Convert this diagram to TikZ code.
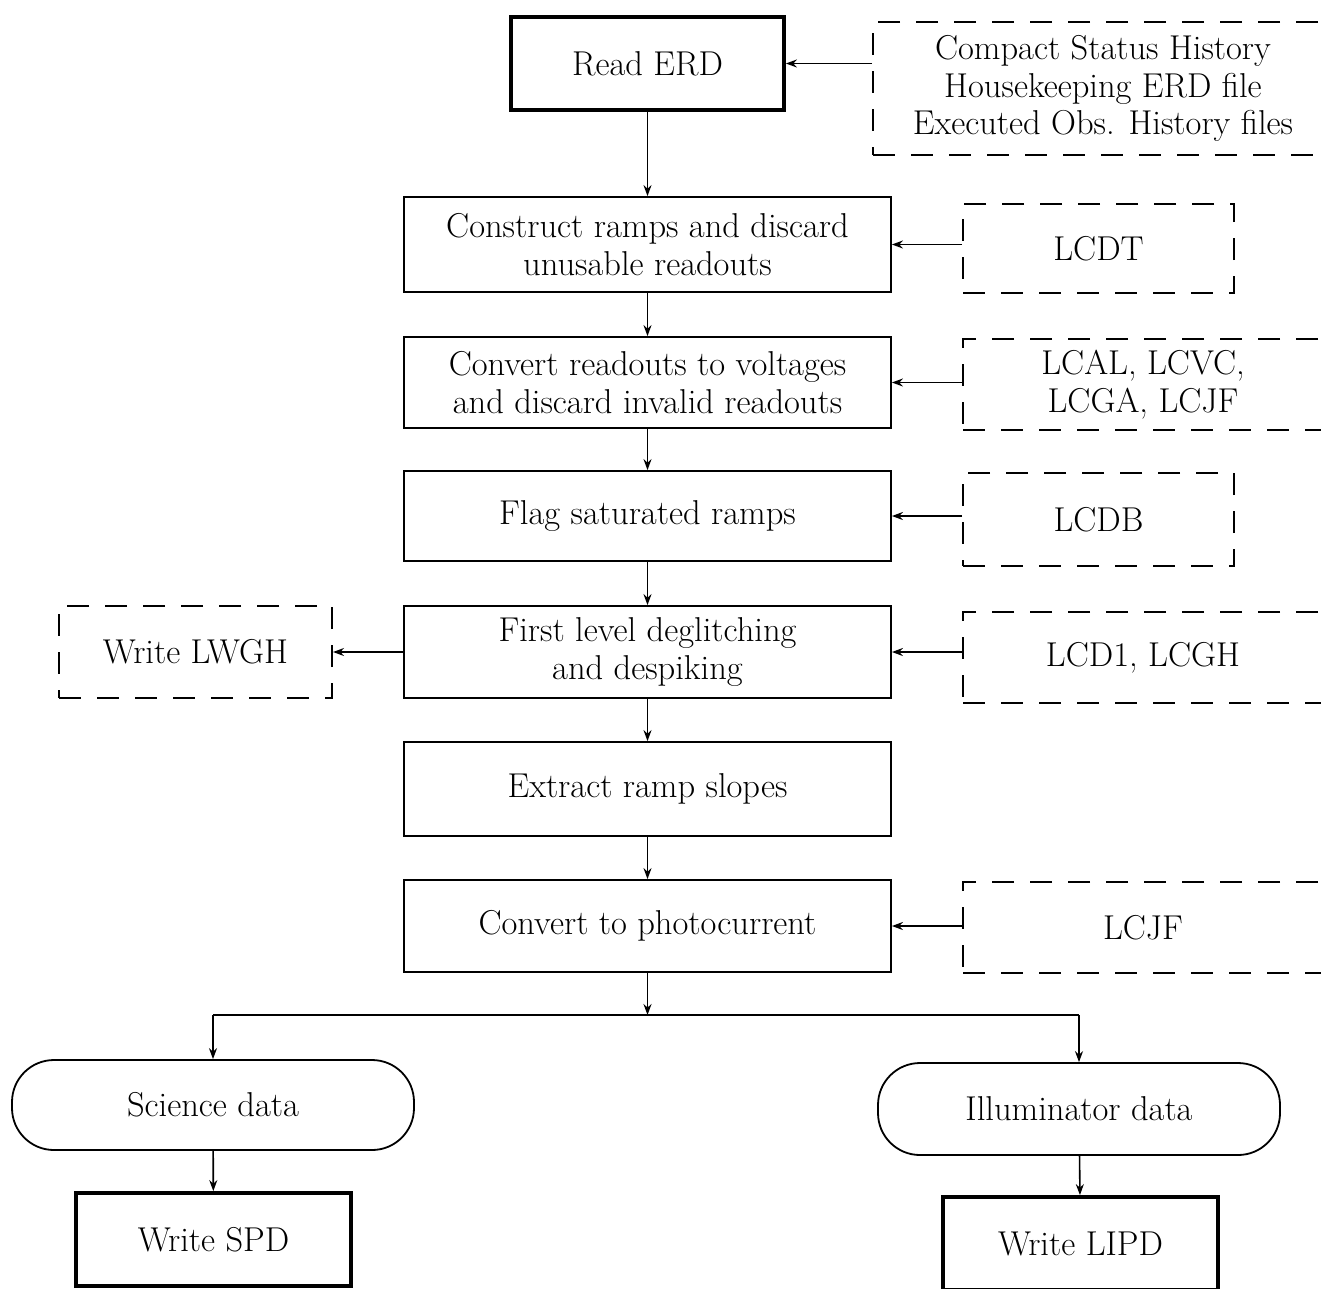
\documentclass[tikz,border=0pt]{standalone}
\usetikzlibrary{arrows.meta,calc}
\begin{document}
\begin{tikzpicture}[x=1pt,y=-1pt,
  every node/.style={font=\fontsize{34.5}{37.5}\selectfont, align=center, inner sep=0pt},
  proc/.style={draw, line width=1.8pt, rectangle},
  io/.style={draw, line width=3.8pt, rectangle},
  dbox/.style={draw, line width=2pt, dash pattern=on 22pt off 16pt, rectangle},
  term/.style={draw, line width=1.8pt, rounded corners=42pt, rectangle},
  arr/.style={line width=1.6pt, -{Stealth[length=11pt,width=8pt]}}
]
\useasboundingbox (0,0) rectangle (1321,1288);
\clip (0,0) rectangle (1321,1288);
\fill[white] (0,0) rectangle (1321,1288);

% main column
\node[io, minimum width=273pt, minimum height=93pt] (read) at (647.5,63.5) {Read ERD};
\node[proc, minimum width=487pt, minimum height=95pt] (construct) at (647.5,244.5) {Construct ramps and discard\\unusable readouts};
\node[proc, minimum width=487pt, minimum height=91pt] (convert) at (647.5,382.5) {Convert readouts to voltages\\and discard invalid readouts};
\node[proc, minimum width=487pt, minimum height=90pt] (flag) at (647.5,516) {Flag saturated ramps};
\node[proc, minimum width=487pt, minimum height=92pt] (first) at (647.5,652) {First level deglitching\\and despiking};
\node[proc, minimum width=487pt, minimum height=94pt] (extract) at (647.5,789) {Extract ramp slopes};
\node[proc, minimum width=487pt, minimum height=92pt] (photo) at (647.5,926) {Convert to photocurrent};

% side inputs
\node[dbox, minimum width=460pt, minimum height=133pt] (src0) at (1103,88.5) {Compact Status History\\Housekeeping ERD file\\Executed Obs. History files};
\node[dbox, minimum width=271pt, minimum height=89pt] (lcdt) at (1098.5,248.5) {LCDT};
\node[dbox, minimum width=360pt, minimum height=91pt] (lcal) at (1143,384.5) {LCAL, LCVC,\\LCGA, LCJF};
\node[dbox, minimum width=271pt, minimum height=93pt] (lcdb) at (1098.5,519.5) {LCDB};
\node[dbox, minimum width=360pt, minimum height=91pt] (lcd1) at (1143,657.5) {LCD1, LCGH};
\node[dbox, minimum width=360pt, minimum height=91pt] (lcjf) at (1143,927.5) {LCJF};
\node[dbox, minimum width=273pt, minimum height=92pt] (lwgh) at (195.5,652) {Write LWGH};

% outputs
\node[term, minimum width=402pt, minimum height=90pt] (sci) at (213,1105) {Science data};
\node[term, minimum width=402pt, minimum height=92pt] (illum) at (1079,1109) {Illuminator data};
\node[io, minimum width=275pt, minimum height=93pt] (spd) at (213.5,1239.5) {Write SPD};
\node[io, minimum width=275pt, minimum height=93pt] (lipd) at (1080.5,1243.5) {Write LIPD};

\coordinate (split) at (647.5,1015);
\coordinate (sl) at (sci.north |- split);
\coordinate (sr) at (illum.north |- split);

% vertical flow
\draw[arr] (read) -- (construct);
\draw[arr] (construct) -- (convert);
\draw[arr] (convert) -- (flag);
\draw[arr] (flag) -- (first);
\draw[arr] (first) -- (extract);
\draw[arr] (extract) -- (photo);
\draw[arr] (photo) -- (split);
\draw[line width=1.6pt] (sl) -- (sr);
\draw[arr] (sl) -- (sci.north);
\draw[arr] (sr) -- (illum.north);
\draw[arr] (sci) -- (spd);
\draw[arr] (illum) -- (lipd);

% side arrows
\draw[arr] (src0.west |- read.east) -- (read.east);
\draw[arr] (lcdt.west |- construct.east) -- (construct.east);
\draw[arr] (lcal.west |- convert.east) -- (convert.east);
\draw[arr] (lcdb.west |- flag.east) -- (flag.east);
\draw[arr] (lcd1.west |- first.east) -- (first.east);
\draw[arr] (lcjf.west |- photo.east) -- (photo.east);
\draw[arr] (first.west) -- (lwgh.east);
\end{tikzpicture}
\end{document}
